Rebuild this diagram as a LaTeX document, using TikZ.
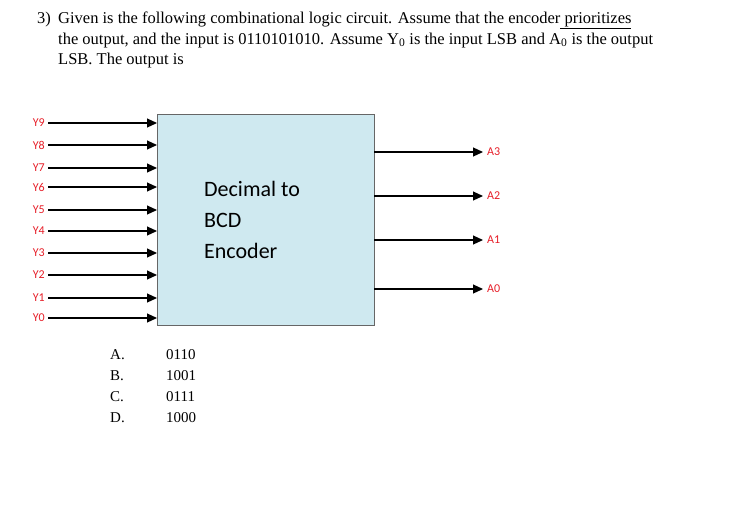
\documentclass[tikz,border=0pt]{standalone}
\usepackage{fontspec}
\setmainfont{Liberation Serif}
\newfontfamily\carlitofont{Carlito}
\usetikzlibrary{arrows.meta}
\definecolor{boxblue}{RGB}{207,233,240}
\definecolor{lblred}{RGB}{230,30,40}
\tikzset{
  qtext/.style={anchor=base west,inner sep=0pt,font=\fontsize{16.5}{20}\selectfont},
  pin/.style={anchor=east,inner sep=0pt,text=lblred,font=\carlitofont\fontsize{12}{14}\selectfont},
  pout/.style={anchor=west,inner sep=0pt,text=lblred,font=\carlitofont\fontsize{12}{14}\selectfont},
  wire/.style={line width=1.1pt,-{Triangle[length=10pt,width=9pt]}},
  ans/.style={anchor=base west,inner sep=0pt,font=\fontsize{15}{18}\selectfont}
}
\begin{document}
\begin{tikzpicture}[x=1pt,y=-1pt]
\useasboundingbox (0,0) rectangle (730,530);
\node[qtext] (q0) at (37,23) {3)};
\node[qtext] (q1) at (58,23) {Given is the following combinational logic circuit. Assume that the encoder\underline{ prioritizes}};
\node[qtext] (q2) at (58,44) {the output, and the input is 0110101010. Assume Y\textsubscript{0} is the input LSB and A\textsubscript{0} is the output};
\node[qtext] (q3) at (58,64) {LSB. The output is};
\node[draw=black!60,line width=0.8pt,fill=boxblue,minimum width=217pt,minimum height=211pt,inner sep=0pt,anchor=north west] (enc) at (157,114) {};
\node[anchor=west,inner sep=0pt,align=left,font=\carlitofont\fontsize{22}{31}\selectfont] (lbl) at (204,220) {Decimal to\\BCD\\Encoder};
\foreach \n/\y in {9/123,8/145,7/168,6/187,5/210,4/231,3/253,2/275,1/298,0/318}{
  \node[pin] (y\n) at (45,\y) {Y\n};
  \coordinate (e\n) at (157,\y);
  \draw[wire] (y\n.east) ++(3,0) -- (e\n);
}
\foreach \n/\y in {3/152,2/196,1/240,0/289}{
  \coordinate (s\n) at (374,\y);
  \node[pout] (a\n) at (487,\y) {A\n};
  \draw[wire] (s\n) -- ([xshift=-4pt]a\n.west);
}
\foreach \l/\v/\y in {A/0110/359,B/1001/380,C/0111/401,D/1000/422}{
  \node[ans] (l\l) at (110,\y) {\l.};
  \node[ans] (v\l) at (166,\y) {\v};
}
\end{tikzpicture}
\end{document}
